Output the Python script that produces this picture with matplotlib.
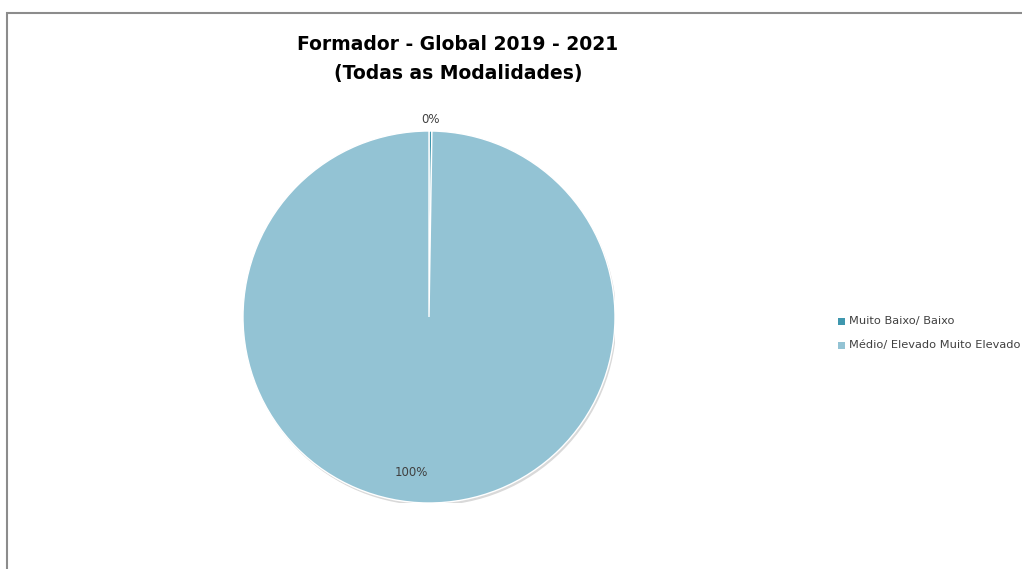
import matplotlib
matplotlib.use("Agg")
import matplotlib.pyplot as plt
from matplotlib.patches import Rectangle, Circle

# ── Datos ─────────────────────────────────────────────
categorias = ["Muito Baixo/ Baixo", "Médio/ Elevado Muito Elevado"]
valores    = [0.25, 99.75]
etiquetas  = ["0%", "100%"]
colores    = ["#3F97AE", "#93C3D4"]

W, H = 1022, 569
fig = plt.figure(figsize=(W / 100, H / 100), dpi=100, facecolor="white")

# marco gris del area del grafico
fig.patches.append(Rectangle((7 / W, -0.1), 1.2, 1 - 13 / H + 0.1,
                             transform=fig.transFigure, fill=False,
                             edgecolor="#8c8c8c", linewidth=1.5))

# ── Pie ───────────────────────────────────────────────
cx, cy, r = 429, 317, 186
ax = fig.add_axes([(cx - r) / W, (H - cy - r) / H, 2 * r / W, 2 * r / H])
ax.set_xlim(-1, 1)
ax.set_ylim(-1, 1)
ax.axis("off")

# sombra suave
ax.add_patch(Circle((0.008, -0.014), 1.0, facecolor="#d9d9d9",
                    edgecolor="none", zorder=0))

wedges, _ = ax.pie(valores, colors=colores, startangle=90,
                   counterclock=False, radius=1.0,
                   wedgeprops=dict(edgecolor="white", linewidth=1.0))
ax.set_xlim(-1, 1)
ax.set_ylim(-1, 1)

ax.text(0.01, 1.06, etiquetas[0], ha="center", va="center",
        fontsize=8.5, color="#404040")
ax.text(-0.095, -0.835, etiquetas[1], ha="center", va="center",
        fontsize=8.5, color="#404040")

# ── Titulo ────────────────────────────────────────────
fig.text(458 / W, 1 - 44 / H, "Formador - Global 2019 - 2021",
         ha="center", va="center", fontsize=13.5, fontweight="bold")
fig.text(458 / W, 1 - 73 / H, "(Todas as Modalidades)",
         ha="center", va="center", fontsize=13.5, fontweight="bold")

# ── Leyenda ───────────────────────────────────────────
for i, (cat, col) in enumerate(zip(categorias, colores)):
    y = 321 + i * 24
    fig.patches.append(Rectangle((838 / W, 1 - (y + 3.5) / H), 7 / W, 7 / H,
                                 transform=fig.transFigure,
                                 facecolor=col, edgecolor="none"))
    fig.text(849 / W, 1 - y / H, cat, ha="left", va="center",
             fontsize=8.2, color="#404040")

plt.savefig("out.png", dpi=100, facecolor="white")
